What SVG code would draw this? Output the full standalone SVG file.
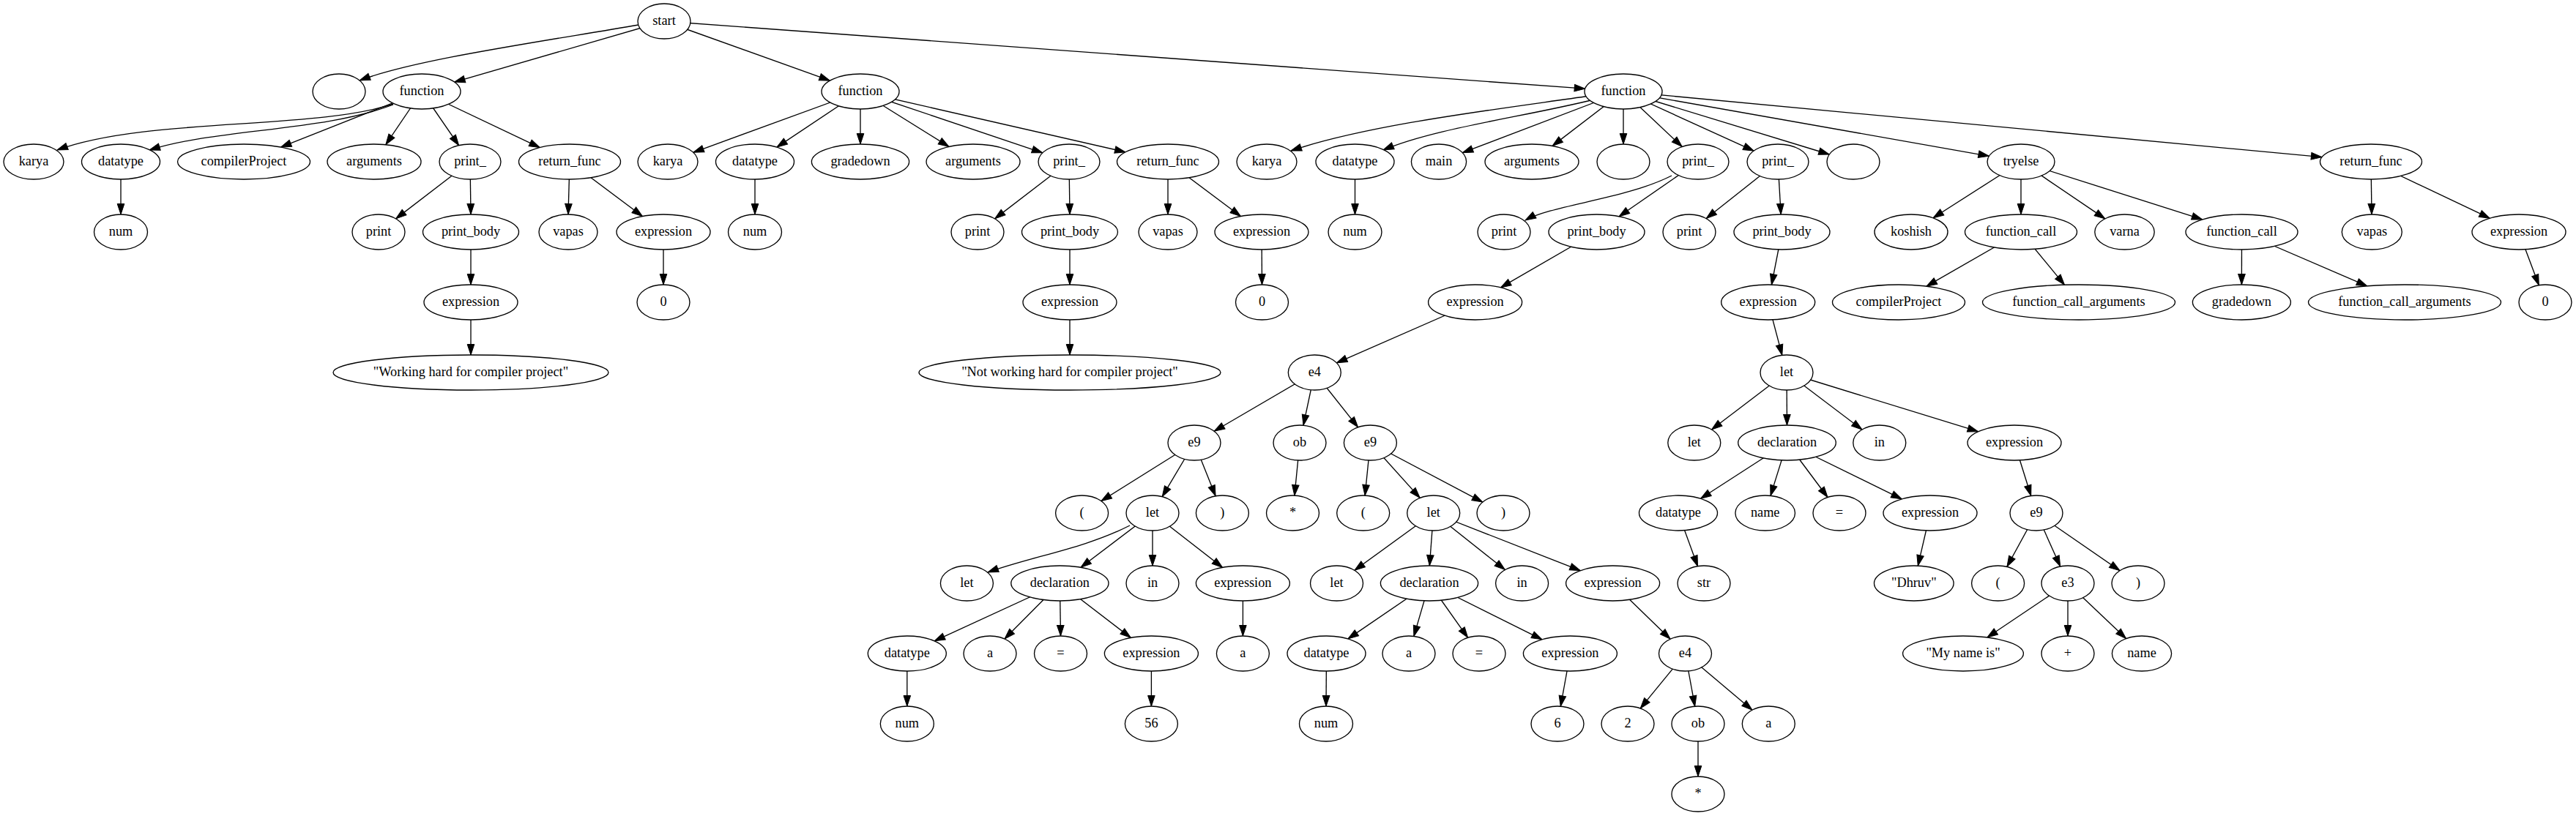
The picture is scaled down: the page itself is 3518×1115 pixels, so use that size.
<svg xmlns="http://www.w3.org/2000/svg" width="3518" height="1115" viewBox="0 0 3518 1115">
<style>
.nd ellipse{fill:#fff;stroke:#000;stroke-width:1.33}
.nd text{font-family:"Liberation Serif","Times New Roman",serif;font-size:18.3px;text-anchor:middle;fill:#000}
.e{fill:none;stroke:#000;stroke-width:1.33;marker-end:url(#ah)}
</style>
<defs>
<marker id="ah" markerUnits="userSpaceOnUse" markerWidth="16" markerHeight="11" refX="14.5" refY="4.8" orient="auto" overflow="visible">
<path d="M0,0 L14.5,4.8 L0,9.6 Z" fill="#000" stroke="#000" stroke-width="1"/>
</marker>
</defs>
<rect width="3518" height="1115" fill="#fff"/>
<g id="connectors">
<path class="e" d="M872,34 C720,60 565,82 491,110"/>
<path class="e" d="M907,29 L620.6,112.1"/>
<path class="e" d="M907,29 L1133.4,110.1"/>
<path class="e" d="M907,29 L2164.7,121.2"/>
<path class="e" d="M537,142 C430,178 200,160 78,205"/>
<path class="e" d="M537,143 C440,180 300,175 204,205"/>
<path class="e" d="M576,125 L383.4,201.1"/>
<path class="e" d="M576,125 L526.8,197.7"/>
<path class="e" d="M576,125 L626.6,198.7"/>
<path class="e" d="M576,125 L737.2,201.6"/>
<path class="e" d="M165,221 L165,293"/>
<path class="e" d="M642,221 L540.6,298.9"/>
<path class="e" d="M642,221 L643,293"/>
<path class="e" d="M643,317 L643,389"/>
<path class="e" d="M643,413 L643,485"/>
<path class="e" d="M778,221 L776,293"/>
<path class="e" d="M778,221 L877.4,295.5"/>
<path class="e" d="M906,317 L906,389"/>
<path class="e" d="M1175,125 L946.8,208.3"/>
<path class="e" d="M1175,125 L1060.9,201.1"/>
<path class="e" d="M1175,125 L1175,197"/>
<path class="e" d="M1175,125 L1296,200.4"/>
<path class="e" d="M1175,125 L1423.8,208.8"/>
<path class="e" d="M1175,125 L1537,207.8"/>
<path class="e" d="M1031,221 L1031,293"/>
<path class="e" d="M1460,221 L1358.6,298.9"/>
<path class="e" d="M1460,221 L1461,293"/>
<path class="e" d="M1461,317 L1461,389"/>
<path class="e" d="M1461,413 L1461,485"/>
<path class="e" d="M1595,221 L1595,293"/>
<path class="e" d="M1595,221 L1694.4,295.5"/>
<path class="e" d="M1723,317 L1723.5,389"/>
<path class="e" d="M2171,131 C2040,150 1870,170 1763,206"/>
<path class="e" d="M2177,136 C2080,160 1960,175 1889,205"/>
<path class="e" d="M2217,125 L1997.3,208.7"/>
<path class="e" d="M2217,125 L2120.1,199.4"/>
<path class="e" d="M2217,125 L2217,197"/>
<path class="e" d="M2217,125 L2297.2,200.5"/>
<path class="e" d="M2217,125 L2395.1,206.1"/>
<path class="e" d="M2217,125 L2498.3,211"/>
<path class="e" d="M2217,125 L2716.4,213.3"/>
<path class="e" d="M2217,125 L3170.9,214.7"/>
<path class="e" d="M1850.5,221 L1850.5,293"/>
<path class="e" d="M2283,240 C2220,272 2120,280 2083,301"/>
<path class="e" d="M2319,221 L2211.1,295.8"/>
<path class="e" d="M2180.5,317 L2049.4,392.9"/>
<path class="e" d="M2014.6,413 L1825.4,495.8"/>
<path class="e" d="M1795.3,509 L1658.1,589.2"/>
<path class="e" d="M1795.3,509 L1780,581.2"/>
<path class="e" d="M1795.3,509 L1854.6,583.8"/>
<path class="e" d="M1631,605 L1503.8,684.6"/>
<path class="e" d="M1631,605 L1587.2,678.7"/>
<path class="e" d="M1631,605 L1660.1,677.8"/>
<path class="e" d="M1543,718 C1480,750 1410,760 1349,782"/>
<path class="e" d="M1574,701 L1476,775.3"/>
<path class="e" d="M1574,701 L1574,773"/>
<path class="e" d="M1574,701 L1669.6,775.4"/>
<path class="e" d="M1447.4,797 L1276.1,875.8"/>
<path class="e" d="M1447.4,797 L1371.9,873"/>
<path class="e" d="M1447.4,797 L1448.5,869"/>
<path class="e" d="M1447.4,797 L1544.3,871.4"/>
<path class="e" d="M1238.8,893 L1238.8,965"/>
<path class="e" d="M1572.4,893 L1572.4,965"/>
<path class="e" d="M1697.4,797 L1697.4,869"/>
<path class="e" d="M1775,605 L1767.9,677.1"/>
<path class="e" d="M1871.4,605 L1864.1,677.1"/>
<path class="e" d="M1871.4,605 L1939.2,680.4"/>
<path class="e" d="M1871.4,605 L2024.8,686.1"/>
<path class="e" d="M1957.7,701 L1849.9,779.3"/>
<path class="e" d="M1957.7,701 L1952.3,773"/>
<path class="e" d="M1957.7,701 L2055.4,778.6"/>
<path class="e" d="M1957.7,701 L2158.3,779.7"/>
<path class="e" d="M1952,797 L1840.9,872.9"/>
<path class="e" d="M1952,797 L1930.9,869.4"/>
<path class="e" d="M1952,797 L2004.6,871.3"/>
<path class="e" d="M1952,797 L2106,873.8"/>
<path class="e" d="M1811.5,893 L1811,965"/>
<path class="e" d="M2144.4,893 L2131.3,965.2"/>
<path class="e" d="M2202.6,797 L2281.1,873.2"/>
<path class="e" d="M2301.5,893 L2240.2,967.9"/>
<path class="e" d="M2301.5,893 L2314.7,965.2"/>
<path class="e" d="M2301.5,893 L2393,970.2"/>
<path class="e" d="M2319,989 L2319,1061"/>
<path class="e" d="M2428,221 L2330.2,298.6"/>
<path class="e" d="M2428,221 L2432.2,293"/>
<path class="e" d="M2433.5,317 L2419.4,389.1"/>
<path class="e" d="M2414.7,413 L2433.8,485.4"/>
<path class="e" d="M2440,509 L2337.5,587"/>
<path class="e" d="M2440,509 L2440.5,581"/>
<path class="e" d="M2440,509 L2543,587"/>
<path class="e" d="M2440,509 L2701.6,589.7"/>
<path class="e" d="M2440.5,605 L2322.5,681.3"/>
<path class="e" d="M2440.5,605 L2418,677.4"/>
<path class="e" d="M2440.5,605 L2496,679.5"/>
<path class="e" d="M2440.5,605 L2597.2,681.9"/>
<path class="e" d="M2292,701 L2318.5,773.7"/>
<path class="e" d="M2636,701 L2619.3,773.1"/>
<path class="e" d="M2751,605 L2773.7,677.5"/>
<path class="e" d="M2781,701 L2740.9,774.4"/>
<path class="e" d="M2781,701 L2813.7,774"/>
<path class="e" d="M2781,701 L2895,779.7"/>
<path class="e" d="M2824,797 L2713.8,871"/>
<path class="e" d="M2824,797 L2824,869"/>
<path class="e" d="M2824,797 L2903.6,872.6"/>
<path class="e" d="M2760,221 L2640,297.8"/>
<path class="e" d="M2760,221 L2760,293"/>
<path class="e" d="M2760,221 L2874.8,298.9"/>
<path class="e" d="M2760,221 L3007.8,299.9"/>
<path class="e" d="M2760,317 L2630.9,391.2"/>
<path class="e" d="M2760,317 L2819.5,389.3"/>
<path class="e" d="M3061.5,317 L3061.4,389"/>
<path class="e" d="M3061.5,317 L3232.8,390.9"/>
<path class="e" d="M3238,221 L3239,293"/>
<path class="e" d="M3238,221 L3400.3,298.2"/>
<path class="e" d="M3440,317 L3467.3,389.7"/>
</g>
<g class="nd">
<g id="n_start"><ellipse cx="907" cy="29" rx="36" ry="24"/><text x="907" y="34">start</text></g>
<g id="n_empty1"><ellipse cx="463" cy="125" rx="36" ry="24"/></g>
<g id="n_f1"><ellipse cx="576" cy="125" rx="53" ry="24"/><text x="576" y="130">function</text></g>
<g id="n_f2"><ellipse cx="1175" cy="125" rx="53" ry="24"/><text x="1175" y="130">function</text></g>
<g id="n_f3"><ellipse cx="2217" cy="125" rx="53" ry="24"/><text x="2217" y="130">function</text></g>

<g id="n_k1"><ellipse cx="46" cy="221" rx="41" ry="24"/><text x="46" y="226">karya</text></g>
<g id="n_dt1"><ellipse cx="165" cy="221" rx="53.5" ry="24"/><text x="165" y="226">datatype</text></g>
<g id="n_cp1"><ellipse cx="333" cy="221" rx="90.5" ry="24"/><text x="333" y="226">compilerProject</text></g>
<g id="n_ar1"><ellipse cx="511" cy="221" rx="64" ry="24"/><text x="511" y="226">arguments</text></g>
<g id="n_p1"><ellipse cx="642" cy="221" rx="42" ry="24"/><text x="642" y="226">print_</text></g>
<g id="n_rf1"><ellipse cx="778" cy="221" rx="69.5" ry="24"/><text x="778" y="226">return_func</text></g>
<g id="n_num1"><ellipse cx="165" cy="317" rx="36.5" ry="24"/><text x="165" y="322">num</text></g>
<g id="n_pr1"><ellipse cx="517" cy="317" rx="36" ry="24"/><text x="517" y="322">print</text></g>
<g id="n_pb1"><ellipse cx="643" cy="317" rx="65.5" ry="24"/><text x="643" y="322">print_body</text></g>
<g id="n_va1"><ellipse cx="776" cy="317" rx="40" ry="24"/><text x="776" y="322">vapas</text></g>
<g id="n_ex1r"><ellipse cx="906" cy="317" rx="64" ry="24"/><text x="906" y="322">expression</text></g>
<g id="n_ex1p"><ellipse cx="643" cy="413" rx="64" ry="24"/><text x="643" y="418">expression</text></g>
<g id="n_z1"><ellipse cx="906" cy="413" rx="36" ry="24"/><text x="906" y="418">0</text></g>
<g id="n_s1"><ellipse cx="643" cy="509" rx="188" ry="24"/><text x="643" y="514">"Working hard for compiler project"</text></g>

<g id="n_k2"><ellipse cx="912" cy="221" rx="41" ry="24"/><text x="912" y="226">karya</text></g>
<g id="n_dt2"><ellipse cx="1031" cy="221" rx="53.5" ry="24"/><text x="1031" y="226">datatype</text></g>
<g id="n_gd2"><ellipse cx="1175" cy="221" rx="66.6" ry="24"/><text x="1175" y="226">gradedown</text></g>
<g id="n_ar2"><ellipse cx="1329" cy="221" rx="64" ry="24"/><text x="1329" y="226">arguments</text></g>
<g id="n_p2"><ellipse cx="1460" cy="221" rx="42" ry="24"/><text x="1460" y="226">print_</text></g>
<g id="n_rf2"><ellipse cx="1595" cy="221" rx="69.5" ry="24"/><text x="1595" y="226">return_func</text></g>
<g id="n_num2"><ellipse cx="1031" cy="317" rx="36.5" ry="24"/><text x="1031" y="322">num</text></g>
<g id="n_pr2"><ellipse cx="1335" cy="317" rx="36" ry="24"/><text x="1335" y="322">print</text></g>
<g id="n_pb2"><ellipse cx="1461" cy="317" rx="65.5" ry="24"/><text x="1461" y="322">print_body</text></g>
<g id="n_va2"><ellipse cx="1595" cy="317" rx="40" ry="24"/><text x="1595" y="322">vapas</text></g>
<g id="n_ex2r"><ellipse cx="1723" cy="317" rx="64" ry="24"/><text x="1723" y="322">expression</text></g>
<g id="n_ex2p"><ellipse cx="1461" cy="413" rx="64" ry="24"/><text x="1461" y="418">expression</text></g>
<g id="n_z2"><ellipse cx="1723.5" cy="413" rx="36" ry="24"/><text x="1723.5" y="418">0</text></g>
<g id="n_s2"><ellipse cx="1461" cy="509" rx="206" ry="24"/><text x="1461" y="514">"Not working hard for compiler project"</text></g>

<g id="n_k3"><ellipse cx="1730" cy="221" rx="41" ry="24"/><text x="1730" y="226">karya</text></g>
<g id="n_dt3"><ellipse cx="1850.5" cy="221" rx="53.5" ry="24"/><text x="1850.5" y="226">datatype</text></g>
<g id="n_main"><ellipse cx="1965" cy="221" rx="37.6" ry="24"/><text x="1965" y="226">main</text></g>
<g id="n_ar3"><ellipse cx="2092" cy="221" rx="64" ry="24"/><text x="2092" y="226">arguments</text></g>
<g id="n_empty2"><ellipse cx="2217" cy="221" rx="36" ry="24"/></g>
<g id="n_p3"><ellipse cx="2319" cy="221" rx="42" ry="24"/><text x="2319" y="226">print_</text></g>
<g id="n_p4"><ellipse cx="2428" cy="221" rx="42" ry="24"/><text x="2428" y="226">print_</text></g>
<g id="n_empty3"><ellipse cx="2531" cy="221" rx="36" ry="24"/></g>
<g id="n_ty"><ellipse cx="2760" cy="221" rx="46" ry="24"/><text x="2760" y="226">tryelse</text></g>
<g id="n_rf3"><ellipse cx="3238" cy="221" rx="69.5" ry="24"/><text x="3238" y="226">return_func</text></g>
<g id="n_num3"><ellipse cx="1850.5" cy="317" rx="36.5" ry="24"/><text x="1850.5" y="322">num</text></g>
<g id="n_pr3"><ellipse cx="2054" cy="317" rx="36" ry="24"/><text x="2054" y="322">print</text></g>
<g id="n_pb3"><ellipse cx="2180.5" cy="317" rx="65.5" ry="24"/><text x="2180.5" y="322">print_body</text></g>
<g id="n_pr4"><ellipse cx="2307" cy="317" rx="36" ry="24"/><text x="2307" y="322">print</text></g>
<g id="n_pb4"><ellipse cx="2433.5" cy="317" rx="65.5" ry="24"/><text x="2433.5" y="322">print_body</text></g>
<g id="n_ko"><ellipse cx="2610" cy="317" rx="50" ry="24"/><text x="2610" y="322">koshish</text></g>
<g id="n_fc1"><ellipse cx="2760" cy="317" rx="76.5" ry="24"/><text x="2760" y="322">function_call</text></g>
<g id="n_vr"><ellipse cx="2901.5" cy="317" rx="40.7" ry="24"/><text x="2901.5" y="322">varna</text></g>
<g id="n_fc2"><ellipse cx="3061.5" cy="317" rx="76.5" ry="24"/><text x="3061.5" y="322">function_call</text></g>
<g id="n_va3"><ellipse cx="3239.3" cy="317" rx="41" ry="24"/><text x="3239.3" y="322">vapas</text></g>
<g id="n_ex3r"><ellipse cx="3440" cy="317" rx="64" ry="24"/><text x="3440" y="322">expression</text></g>
<g id="n_ex3p"><ellipse cx="2014.6" cy="413" rx="64" ry="24"/><text x="2014.6" y="418">expression</text></g>
<g id="n_ex4p"><ellipse cx="2414.7" cy="413" rx="64" ry="24"/><text x="2414.7" y="418">expression</text></g>
<g id="n_cp2"><ellipse cx="2593" cy="413" rx="90.5" ry="24"/><text x="2593" y="418">compilerProject</text></g>
<g id="n_fca1"><ellipse cx="2839" cy="413" rx="131.5" ry="24"/><text x="2839" y="418">function_call_arguments</text></g>
<g id="n_gd3"><ellipse cx="3061.4" cy="413" rx="67" ry="24"/><text x="3061.4" y="418">gradedown</text></g>
<g id="n_fca2"><ellipse cx="3284" cy="413" rx="131.5" ry="24"/><text x="3284" y="418">function_call_arguments</text></g>
<g id="n_z3"><ellipse cx="3476" cy="413" rx="36" ry="24"/><text x="3476" y="418">0</text></g>

<g id="n_e4a"><ellipse cx="1795.3" cy="509" rx="36" ry="24"/><text x="1795.3" y="514">e4</text></g>
<g id="n_L3"><ellipse cx="2440" cy="509" rx="36" ry="24"/><text x="2440" y="514">let</text></g>

<g id="n_e9a"><ellipse cx="1631" cy="605" rx="36" ry="24"/><text x="1631" y="610">e9</text></g>
<g id="n_ob1"><ellipse cx="1775" cy="605" rx="36" ry="24"/><text x="1775" y="610">ob</text></g>
<g id="n_e9b"><ellipse cx="1871.4" cy="605" rx="36" ry="24"/><text x="1871.4" y="610">e9</text></g>
<g id="n_let3a"><ellipse cx="2313.8" cy="605" rx="36" ry="24"/><text x="2313.8" y="610">let</text></g>
<g id="n_dec3"><ellipse cx="2440.5" cy="605" rx="66.8" ry="24"/><text x="2440.5" y="610">declaration</text></g>
<g id="n_in3"><ellipse cx="2566.8" cy="605" rx="36" ry="24"/><text x="2566.8" y="610">in</text></g>
<g id="n_ex3b"><ellipse cx="2751" cy="605" rx="64" ry="24"/><text x="2751" y="610">expression</text></g>

<g id="n_lp1"><ellipse cx="1477.6" cy="701" rx="36" ry="24"/><text x="1477.6" y="706">(</text></g>
<g id="n_L1"><ellipse cx="1574" cy="701" rx="36" ry="24"/><text x="1574" y="706">let</text></g>
<g id="n_rp1"><ellipse cx="1669.4" cy="701" rx="36" ry="24"/><text x="1669.4" y="706">)</text></g>
<g id="n_st1"><ellipse cx="1765.5" cy="701" rx="36" ry="24"/><text x="1765.5" y="706">*</text></g>
<g id="n_lp2"><ellipse cx="1861.7" cy="701" rx="36" ry="24"/><text x="1861.7" y="706">(</text></g>
<g id="n_L2"><ellipse cx="1957.7" cy="701" rx="36" ry="24"/><text x="1957.7" y="706">let</text></g>
<g id="n_rp2"><ellipse cx="2053" cy="701" rx="36" ry="24"/><text x="2053" y="706">)</text></g>
<g id="n_dt3b"><ellipse cx="2292" cy="701" rx="53.5" ry="24"/><text x="2292" y="706">datatype</text></g>
<g id="n_nm3"><ellipse cx="2410.7" cy="701" rx="40.8" ry="24"/><text x="2410.7" y="706">name</text></g>
<g id="n_eq3"><ellipse cx="2512" cy="701" rx="36" ry="24"/><text x="2512" y="706">=</text></g>
<g id="n_ex3c"><ellipse cx="2636" cy="701" rx="64" ry="24"/><text x="2636" y="706">expression</text></g>
<g id="n_e9c"><ellipse cx="2781" cy="701" rx="36" ry="24"/><text x="2781" y="706">e9</text></g>

<g id="n_let1a"><ellipse cx="1320.4" cy="797" rx="36" ry="24"/><text x="1320.4" y="802">let</text></g>
<g id="n_dec1"><ellipse cx="1447.4" cy="797" rx="66.6" ry="24"/><text x="1447.4" y="802">declaration</text></g>
<g id="n_in1"><ellipse cx="1574" cy="797" rx="36" ry="24"/><text x="1574" y="802">in</text></g>
<g id="n_ex1b"><ellipse cx="1697.4" cy="797" rx="64" ry="24"/><text x="1697.4" y="802">expression</text></g>
<g id="n_let2a"><ellipse cx="1825.5" cy="797" rx="36" ry="24"/><text x="1825.5" y="802">let</text></g>
<g id="n_dec2"><ellipse cx="1952" cy="797" rx="66.6" ry="24"/><text x="1952" y="802">declaration</text></g>
<g id="n_in2"><ellipse cx="2078.6" cy="797" rx="36" ry="24"/><text x="2078.6" y="802">in</text></g>
<g id="n_ex2b"><ellipse cx="2202.6" cy="797" rx="64" ry="24"/><text x="2202.6" y="802">expression</text></g>
<g id="n_str"><ellipse cx="2327" cy="797" rx="36" ry="24"/><text x="2327" y="802">str</text></g>
<g id="n_dh"><ellipse cx="2613.8" cy="797" rx="54.3" ry="24"/><text x="2613.8" y="802">"Dhruv"</text></g>
<g id="n_lp3"><ellipse cx="2728.6" cy="797" rx="36" ry="24"/><text x="2728.6" y="802">(</text></g>
<g id="n_e3b"><ellipse cx="2824" cy="797" rx="36" ry="24"/><text x="2824" y="802">e3</text></g>
<g id="n_rp3"><ellipse cx="2920" cy="797" rx="36" ry="24"/><text x="2920" y="802">)</text></g>

<g id="n_dt1b"><ellipse cx="1238.8" cy="893" rx="53.5" ry="24"/><text x="1238.8" y="898">datatype</text></g>
<g id="n_a1"><ellipse cx="1352" cy="893" rx="36" ry="24"/><text x="1352" y="898">a</text></g>
<g id="n_eq1"><ellipse cx="1448.5" cy="893" rx="36" ry="24"/><text x="1448.5" y="898">=</text></g>
<g id="n_ex1c"><ellipse cx="1572.4" cy="893" rx="64" ry="24"/><text x="1572.4" y="898">expression</text></g>
<g id="n_a1b"><ellipse cx="1697.4" cy="893" rx="36" ry="24"/><text x="1697.4" y="898">a</text></g>
<g id="n_dt2b"><ellipse cx="1811.5" cy="893" rx="53.5" ry="24"/><text x="1811.5" y="898">datatype</text></g>
<g id="n_a2"><ellipse cx="1924" cy="893" rx="36" ry="24"/><text x="1924" y="898">a</text></g>
<g id="n_eq2"><ellipse cx="2020" cy="893" rx="36" ry="24"/><text x="2020" y="898">=</text></g>
<g id="n_ex2c"><ellipse cx="2144.4" cy="893" rx="64" ry="24"/><text x="2144.4" y="898">expression</text></g>
<g id="n_e4b"><ellipse cx="2301.5" cy="893" rx="36" ry="24"/><text x="2301.5" y="898">e4</text></g>
<g id="n_mni"><ellipse cx="2681" cy="893" rx="82.4" ry="24"/><text x="2681" y="898">"My name is"</text></g>
<g id="n_plus"><ellipse cx="2824" cy="893" rx="36" ry="24"/><text x="2824" y="898">+</text></g>
<g id="n_nm9"><ellipse cx="2925" cy="893" rx="40.6" ry="24"/><text x="2925" y="898">name</text></g>

<g id="n_num1b"><ellipse cx="1238.8" cy="989" rx="36.5" ry="24"/><text x="1238.8" y="994">num</text></g>
<g id="n_56"><ellipse cx="1572.4" cy="989" rx="36" ry="24"/><text x="1572.4" y="994">56</text></g>
<g id="n_num2b"><ellipse cx="1811" cy="989" rx="36.5" ry="24"/><text x="1811" y="994">num</text></g>
<g id="n_6"><ellipse cx="2127" cy="989" rx="36" ry="24"/><text x="2127" y="994">6</text></g>
<g id="n_2"><ellipse cx="2223" cy="989" rx="36" ry="24"/><text x="2223" y="994">2</text></g>
<g id="n_ob2"><ellipse cx="2319" cy="989" rx="36" ry="24"/><text x="2319" y="994">ob</text></g>
<g id="n_a2b"><ellipse cx="2415.3" cy="989" rx="36" ry="24"/><text x="2415.3" y="994">a</text></g>
<g id="n_st2"><ellipse cx="2319" cy="1085" rx="36" ry="24"/><text x="2319" y="1090">*</text></g>
</g>
</svg>
